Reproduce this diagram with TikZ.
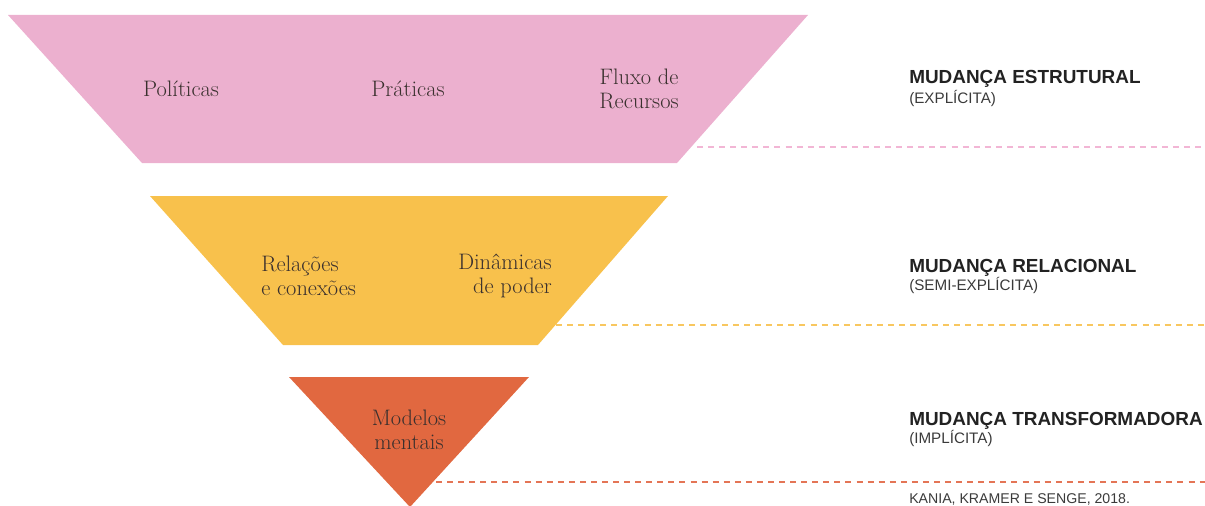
\documentclass[tikz,border=0pt]{standalone}
\usepackage{fontspec}
\newfontfamily\headfont{Liberation Sans}
\definecolor{pinkfill}{HTML}{ECB0CF}
\definecolor{yellowfill}{HTML}{F8C14C}
\definecolor{orangefill}{HTML}{E16840}
\definecolor{pinkdash}{HTML}{F2B6D5}
\definecolor{yellowdash}{HTML}{F8C760}
\definecolor{orangedash}{HTML}{E47556}
\definecolor{inktext}{HTML}{3A302E}
\definecolor{headtext}{HTML}{222222}
\definecolor{subtext}{HTML}{3A3A3A}
\begin{document}
\begin{tikzpicture}[x=0.75pt,y=-0.75pt,
  intext/.style={text=inktext,font=\fontsize{16.8}{18}\selectfont,inner sep=0pt},
  headtitle/.style={anchor=base west,inner sep=0pt,text=headtext,font=\headfont\bfseries\fontsize{14.2}{16}\selectfont},
  subtitle/.style={anchor=base west,inner sep=0pt,text=subtext,font=\headfont\fontsize{11.4}{13}\selectfont},
  guide/.style={line width=0.8pt,dash pattern=on 4.5pt off 3.8pt}]
\useasboundingbox (0,0) rectangle (1205,506);
% shapes
\fill[pinkfill] (8,15) -- (808,15) -- (677,163) -- (142,163) -- cycle;
\fill[yellowfill] (150,196) -- (668,196) -- (538,345) -- (283,345) -- cycle;
\fill[orangefill] (289,377) -- (529,377) -- (410,507) -- cycle;
% texts inside
\node[intext] (pol) at (181,89) {Políticas};
\node[intext] (pra) at (408,89) {Práticas};
\node[intext,align=center] (flu) at (639,89) {Fluxo de\\Recursos};
\node[intext,align=left,anchor=west] (rel) at (261,276) {Relações\\e conexões};
\node[intext,align=right,anchor=east] (din) at (552,276) {Dinâmicas\\de poder};
\node[intext,align=center] (mod) at (409,430) {Modelos\\mentais};
% guides
\coordinate (g1a) at (697,147); \coordinate (g1b) at (1205,147);
\coordinate (g2a) at (556,325); \coordinate (g2b) at (1205,325);
\coordinate (g3a) at (436,482); \coordinate (g3b) at (1205,482);
\draw[guide,pinkdash] (g1a) -- (g1b);
\draw[guide,yellowdash] (g2a) -- (g2b);
\draw[guide,orangedash] (g3a) -- (g3b);
% right labels
\node[headtitle] (h1) at (909,84) {MUDANÇA ESTRUTURAL};
\node[subtitle] (s1) at (909,104) {(EXPLÍCITA)};
\node[headtitle] (h2) at (909,272) {MUDANÇA RELACIONAL};
\node[subtitle] (s2) at (909,290) {(SEMI-EXPLÍCITA)};
\node[headtitle] (h3) at (909,425) {MUDANÇA TRANSFORMADORA};
\node[subtitle] (s3) at (909,443) {(IMPLÍCITA)};
\node[subtitle,font=\headfont\fontsize{10.6}{12}\selectfont] (ref) at (909,503) {KANIA, KRAMER E SENGE, 2018.};
\end{tikzpicture}
\end{document}
